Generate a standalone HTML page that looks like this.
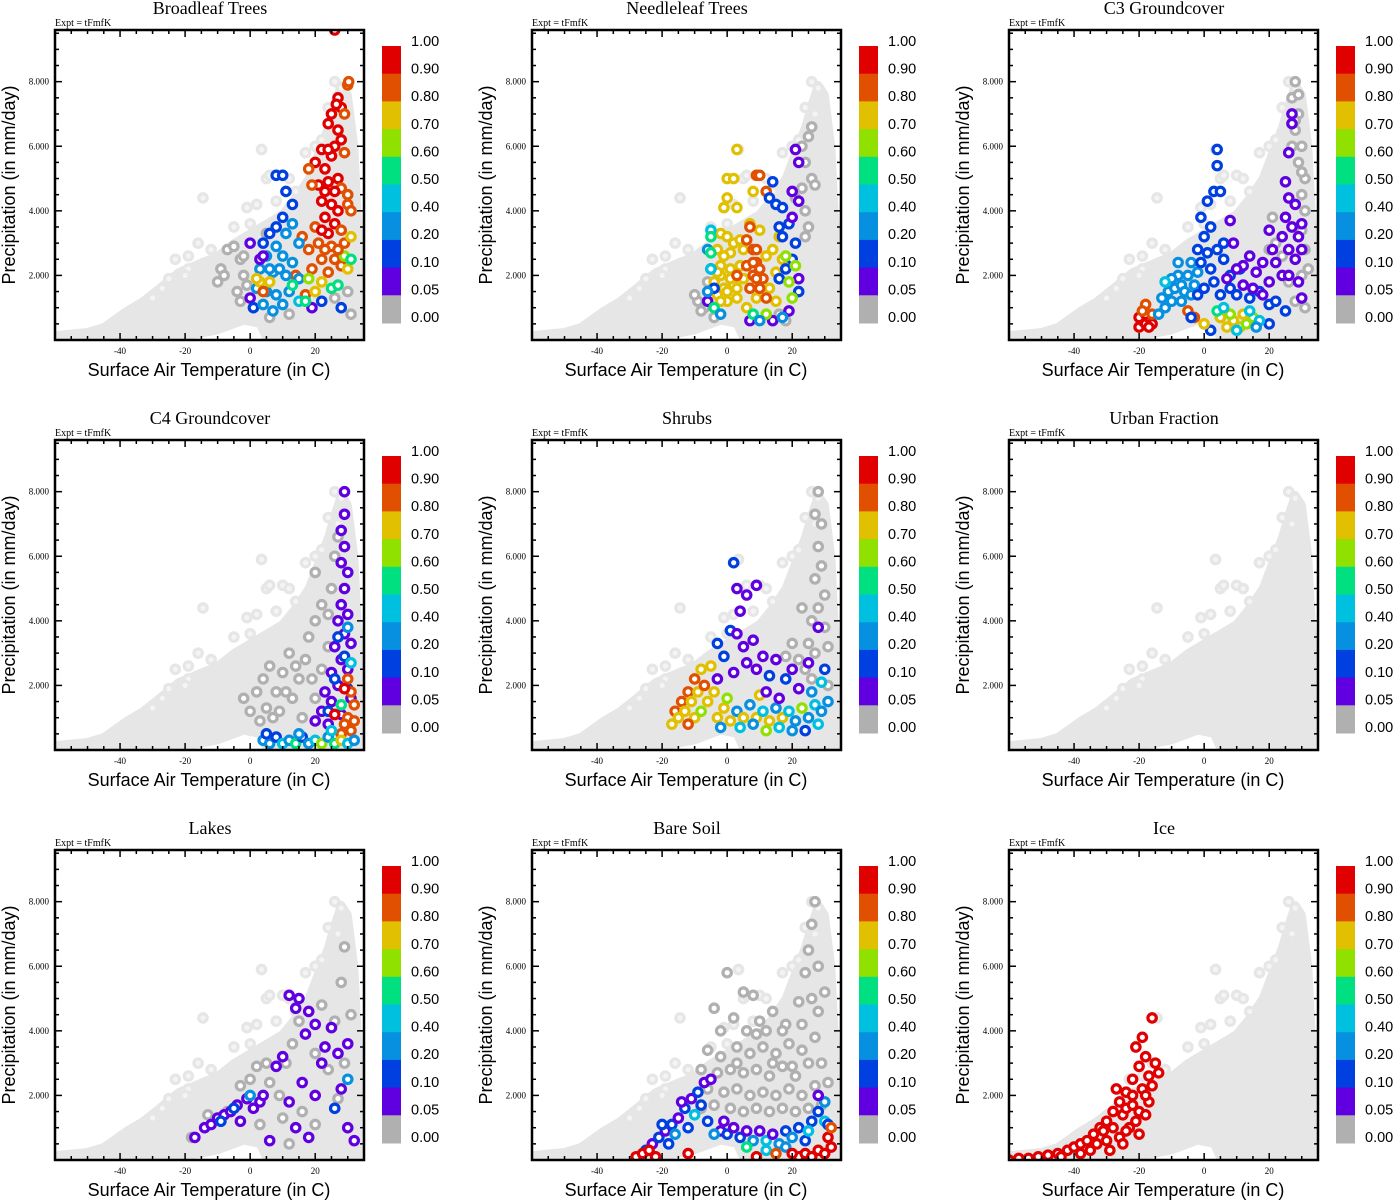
<!DOCTYPE html>
<html><head><meta charset="utf-8"><style>
body{margin:0;background:#fff;width:1393px;height:1200px;overflow:hidden}
svg{display:block}
</style></head><body>
<svg id="chart" width="1393" height="1200" xmlns="http://www.w3.org/2000/svg"></svg>
<script>
const panelTitles=["Broadleaf Trees","Needleleaf Trees","C3 Groundcover","C4 Groundcover","Shrubs","Urban Fraction","Lakes","Bare Soil","Ice"];
const xTicks=[-40,-20,0,20];
const yTicks=[2,4,6,8];
const yTickLabels=["2.000","4.000","6.000","8.000"];
const cbLabels=["1.00","0.90","0.80","0.70","0.60","0.50","0.40","0.20","0.10","0.05","0.00"];
const cbBounds=[1.0,0.9,0.8,0.7,0.6,0.5,0.4,0.2,0.1,0.05,0.0];
const cbColors=["#e00000","#e05000","#e0c000","#90e000","#00e080","#00c0e0","#0890e0","#0040e0","#6000e0","#b0b0b0"];
const cloudOutline=[[-60,0],[-60,0.15],[-50,0.25],[-45,0.4],[-38,0.9],[-33,1.2],[-28,1.6],[-22,2.1],[-15,2.4],[-10,2.6],[-5,3.0],[0,3.3],[5,3.6],[10,3.9],[14,4.4],[18,5.0],[21,5.8],[24,6.6],[26,7.3],[28,7.9],[30,7.6],[32,6.0],[33,4.0],[34.5,2.0],[34.5,0.05],[5,0.05],[3,0.5],[-2,0.6],[-10,0.3],[-20,0.1]];
const cloudOutliers=[[-14.5,4.4],[3.5,5.9],[5,5.0],[6,5.1],[10,5.1],[12,5.0],[-5,3.5],[-19,2.6],[-19,2.2],[-20,2.0],[-16,3.0],[-12,2.8],[17,5.8],[20,6.0],[14,4.6],[-1,4.1],[2,4.2],[26,8],[24,7.2],[28,7.8],[-25,1.9],[-27,1.6],[-30,1.3],[-23,2.5],[0,3.6],[8,4.3],[22,6.2],[27,7.0]];

const broadleafPts=[[26,9.6,.95],[30,7.9,.85],[30.3,8,.85],[27,7.5,.95],[28,7.2,.95],[26.5,7.3,.95],[25,7.0,.95],[29,7.0,.85],[24,6.7,.95],[27,6.5,.95],[28,6.2,.95],[26,6.0,.95],[22,5.9,.95],[25,5.7,.95],[29,5.8,.85],[20,5.5,.95],[23,5.3,.95],[27,5.0,.95],[21,4.8,.95],[24,4.9,.95],[28,4.7,.85],[30,4.5,.85],[18,5.3,.85],[19,4.8,.85],[22,4.3,.95],[25,4.2,.95],[27,4.0,.95],[30,4.2,.85],[31,4.0,.85],[23,3.8,.95],[26,3.6,.95],[20,3.5,.85],[24,3.3,.95],[28,3.4,.85],[21,3.0,.85],[25,2.9,.85],[29,3.0,.85],[16,3.2,.85],[18,2.8,.85],[22,2.5,.85],[26,2.5,.85],[28,2.3,.85],[19,2.2,.85],[24,2.1,.85],[14,2.0,.85],[17,1.4,.85],[31,3.2,.75],[30,2.2,.75],[22,1.8,.75],[29,2.6,.6],[31,2.5,.55],[20,1.5,.75],[25,1.6,.55],[27,1.7,.5],[23,4.6,.95],[26,4.6,.95],[24,5.9,.95],[22,3.4,.95],[27,2.8,.85],[23,2.8,.85],
[8,5.1,.15],[10,5.1,.15],[11,4.6,.15],[13,4.2,.15],[10,3.8,.15],[8,3.5,.15],[6,3.3,.15],[0,3.0,.07],[4,3.0,.15],[13,3.6,.3],[11,3.3,.3],[15,3.0,.3],[8,2.9,.3],[5,2.6,.3],[10,2.6,.3],[13,2.4,.3],[3,2.2,.3],[7,2.1,.3],[11,2.0,.3],[15,1.9,.3],[2,1.6,.3],[5,1.5,.3],[8,1.4,.3],[12,1.5,.3],[15,1.2,.45],[0,1.3,.07],[1,1.0,.15],[4,1.1,.3],[7,0.9,.3],[10,1.1,.3],[19,1.0,.07],[22,1.2,.15],[28,1.0,.15],[3,1.8,.7],[6,1.8,.75],[2,1.9,.7],[4,1.5,.85],[13,1.7,.5],[17,1.2,.55],[18,1.9,.6],[3,2.5,.07],[4,2.6,.07],[9,2.2,.3],[6,2.2,.3],
[-10,1.8,0],[-9,2.2,0],[-7,2.8,0],[-5,2.9,0],[-3,2.5,0],[-8,2.0,0],[-4,1.5,0],[-2,2.0,0],[-3,1.2,0],[5,3.3,0],[6,0.7,0],[12,0.8,0],[30,1.5,0],[31,0.8,0],[26,1.3,0],[-1,1.7,0],[-2,2.6,0]];
const needleleafPts=[[-7,1.0,0],[-9,1.2,0],[-6,1.8,0],[-8,0.9,0],[20,4.6,0],[21,4.4,0],[23,4.7,0],[24,5.5,0],[25,6.3,0],[26,5.0,0],[24,4.0,0],[27,4.8,0],[25,3.5,0],[23,6.0,0],[26,6.6,0],[24,3.2,0],[18,0.6,0],[16,0.8,0],[-10,1.4,0],[-4,0.7,0],
[3,5.9,.75],[0,5.0,.75],[2,5.0,.75],[0,4.4,.75],[-1,4.1,.75],[3,4.1,.75],[-2,3.3,.75],[0,3.2,.75],[2,3.0,.75],[4,3.1,.75],[-3,2.8,.75],[1,2.7,.75],[5,2.8,.75],[-2,2.3,.75],[1,2.2,.75],[4,2.3,.75],[7,3.6,.75],[10,3.4,.75],[12,2.6,.75],[14,2.8,.75],[16,3.2,.75],[17,2.5,.75],[-4,1.8,.75],[-1,1.6,.75],[2,1.7,.75],[5,1.9,.75],[0,1.2,.75],[3,1.3,.75],[-3,1.4,.75],[6,1.0,.75],[9,1.3,.75],[13,1.6,.75],[15,2.1,.75],[15,1.2,.75],[-2,2.0,.75],[1,1.9,.75],[8,4.6,.75],[-1,2.6,.75],[-3,2.1,.75],[0,1.5,.75],[3,1.6,.75],[-2,1.2,.75],
[9,5.1,.85],[10,5.1,.85],[12,4.6,.85],[7,3.5,.85],[6,3.1,.85],[8,2.8,.85],[9,2.4,.85],[10,2.2,.85],[8,2.0,.85],[11,1.9,.85],[7,1.6,.85],[10,1.6,.85],[12,1.3,.85],[9,2.8,.85],[3,2.0,.85],[6,2.3,.85],[9,1.9,.85],[8,2.4,.85],
[14,4.9,.15],[13,4.4,.15],[15,4.2,.15],[17,4.1,.15],[16,3.5,.15],[19,3.6,.15],[17,3.2,.15],[21,3.0,.15],[20,2.5,.15],[18,2.2,.15],[16,1.9,.15],[22,1.5,.15],[-5,2.2,.15],[-4,1.6,.15],
[21,5.9,.07],[22,5.5,.07],[20,4.6,.07],[22,4.3,.07],[20,3.8,.07],[22,1.9,.07],[-6,1.2,.07],[7,0.6,.07],[14,0.6,.07],[19,0.9,.07],
[-5,3.4,.45],[-6,2.8,.3],[-5,2.2,.45],[-6,1.5,.3],[-4,1.0,.55],[-5,3.2,.55],[-5,2.7,.55],[18,2.6,.65],[21,2.3,.65],[19,1.8,.65],[20,1.3,.65],[12,0.8,.65],[17,0.7,.3],[8,0.8,.55],[-2,0.8,.3],[10,0.6,.3]];
const c3Pts=[[28,8.0,0],[27,7.5,0],[29,7.0,0],[28,6.5,0],[30,6.0,0],[29,5.5,0],[31,5.0,0],[30,4.5,0],[31,4.0,0],[30,3.4,0],[31,2.8,0],[32,2.2,0],[30,2.0,0],[31,1.0,0],[26,1.8,0],[28,1.2,0],[21,3.8,0],[22,3.0,0],[20,2.8,0],[28,6.8,0],[24,2.6,0],[29,7.6,0],[27,6.0,0],[30,5.2,0],
[-20,0.4,.95],[-19,0.6,.95],[-18,0.5,.95],[-17,0.7,.95],[-16,0.5,.95],[-20,0.7,.95],[-18,0.8,.95],[-17,0.4,.95],
[-18,1.1,.85],[-19,0.9,.85],[-16,0.8,.85],[-5,0.9,.85],[-3,0.7,.85],[5,0.7,.85],
[-14,0.8,.3],[-12,1.0,.3],[-13,1.3,.3],[-11,1.5,.3],[-9,1.6,.3],[-10,1.2,.3],[-7,1.7,.3],[-8,2.0,.3],[-5,2.0,.3],[-6,1.5,.3],[-3,1.7,.3],[-4,2.4,.3],[-2,2.1,.3],[-10,1.9,.3],[-8,2.4,.3],[-12,1.8,.45],[-7,1.2,.3],[-4,1.4,.3],
[-2,2.8,.15],[0,3.2,.15],[2,3.5,.15],[-1,3.8,.15],[1,4.3,.15],[3,4.6,.15],[5,4.6,.15],[4,5.4,.15],[4,5.9,.15],[1,2.7,.15],[4,2.8,.15],[6,2.5,.15],[3,1.8,.15],[0,1.6,.15],[-2,1.4,.15],[5,1.4,.15],[8,1.6,.15],[10,1.4,.15],[14,1.3,.15],[17,1.5,.15],[20,1.1,.15],[22,1.2,.15],[25,0.9,.15],[20,0.5,.15],[-4,0.7,.15],[2,0.3,.15],[6,3.0,.15],[8,2.0,.15],[11,2.2,.15],[2,2.2,.15],[-1,2.4,.15],
[27,7.0,.07],[27,6.7,.07],[26,5.8,.07],[25,4.9,.07],[26,4.4,.07],[28,4.2,.07],[25,3.8,.07],[27,3.5,.07],[29,3.2,.07],[24,3.2,.07],[26,2.8,.07],[28,2.5,.07],[30,2.8,.07],[22,2.4,.07],[24,2.0,.07],[26,2.0,.07],[29,1.8,.07],[30,1.3,.07],[8,3.7,.07],[9,3.0,.07],[12,2.3,.07],[14,2.6,.07],[10,2.2,.07],[7,1.9,.07],[12,1.7,.07],[16,2.1,.07],[18,2.4,.07],[20,1.8,.07],[18,1.4,.07],[15,1.6,.07],[20,3.4,.07],[21,2.8,.07],[30,3.6,.07],
[5,0.7,.75],[7,0.4,.75],[9,0.6,.75],[11,0.4,.75],[8,0.8,.65],[13,0.5,.65],[15,0.7,.65],[12,0.8,.75],[0,0.5,.75],[10,0.3,.45],[14,0.9,.45],[17,0.6,.45],[4,0.9,.55],[16,0.4,.3],[6,1.0,.45]];
const c4Pts=[[2,1.8,0],[4,2.2,0],[6,2.6,0],[5,1.3,0],[8,1.8,0],[10,2.4,0],[12,3.0,0],[9,1.2,0],[13,1.6,0],[15,2.2,0],[17,2.8,0],[18,3.5,0],[20,4.0,0],[16,1.0,0],[20,1.6,0],[22,2.5,0],[24,3.2,0],[22,4.5,0],[25,5.0,0],[26,6.0,0],[27,6.6,0],[24,4.2,0],[0,1.2,0],[-2,1.6,0],[3,0.9,0],[20,5.5,0],[7,1.0,0],[11,1.8,0],[14,2.6,0],[19,2.2,0],
[29,8.0,.07],[29,7.3,.07],[28,6.8,.07],[29,6.3,.07],[28,5.8,.07],[30,5.5,.07],[29,5.0,.07],[28,4.5,.07],[30,4.2,.07],[27,4.0,.07],[29,3.6,.07],[31,3.3,.07],[26,3.2,.07],[28,2.8,.07],[30,2.5,.07],[25,2.4,.07],[27,2.0,.07],[23,1.8,.07],[31,1.6,.07],[22,1.2,.07],[25,1.5,.07],[28,1.1,.07],[24,0.8,.07],[20,0.9,.07],
[27,3.5,.15],[29,2.9,.15],[26,2.2,.15],[30,1.9,.15],[24,1.2,.15],[30,3.8,.3],[31,2.7,.45],[28,1.4,.55],
[30,2.2,.85],[31,1.8,.85],[32,1.4,.85],[30,1.0,.85],[29,0.8,.85],[31,0.6,.85],[28,0.5,.85],[32,0.9,.85],[26,1.1,.95],[29,1.9,.95],
[4,0.3,.3],[6,0.2,.3],[8,0.4,.15],[10,0.2,.45],[12,0.3,.3],[14,0.2,.55],[16,0.4,.15],[18,0.2,.3],[20,0.3,.45],[22,0.2,.65],[24,0.4,.3],[26,0.2,.55],[28,0.3,.75],[30,0.2,.45],[32,0.3,.3],[5,0.5,.15],[15,0.5,.3],[25,0.6,.45]];
const shrubPts=[[28,8,0],[27,7.3,0],[29,7.0,0],[28,6.3,0],[29,5.7,0],[27,5.3,0],[30,4.8,0],[28,4.4,0],[26,4.0,0],[30,3.8,0],[25,3.3,0],[27,3.0,0],[31,3.2,0],[24,2.5,0],[20,3.3,0],[22,2.8,0],[26,2.2,0],[31,2.0,0],[18,2.9,0],[23,4.4,0],
[-17,0.8,.75],[-16,1.2,.85],[-15,1.0,.75],[-14,1.5,.85],[-13,1.2,.75],[-12,1.8,.85],[-11,1.5,.75],[-10,2.2,.85],[-9,1.8,.75],[-8,2.5,.75],[-7,2.0,.85],[-6,1.5,.75],[-10,1.0,.75],[-5,2.6,.75],[-4,1.8,.75],[-12,0.8,.85],[-8,1.2,.65],
[-3,1.0,.75],[-1,1.3,.75],[1,0.9,.75],[3,1.2,.3],[5,1.0,.75],[7,1.4,.3],[9,1.0,.75],[11,1.2,.45],[13,0.9,.75],[15,1.3,.3],[17,1.0,.75],[19,1.2,.45],[21,0.9,.3],[23,1.3,.65],[25,1.0,.3],[27,1.4,.45],[29,1.2,.3],[31,1.5,.3],[-2,0.7,.3],[4,0.7,.45],[8,0.8,.3],[12,0.6,.65],[16,0.7,.45],[20,0.6,.3],[24,0.6,.15],[28,0.8,.45],[0,1.6,.65],[10,1.7,.75],
[2,5.8,.15],[3,5.0,.07],[6,4.8,.07],[9,5.1,.07],[4,4.3,.07],[1,3.7,.15],[3,3.6,.07],[5,3.2,.07],[8,3.4,.07],[6,2.7,.07],[9,2.5,.07],[11,2.9,.07],[2,2.4,.07],[-3,3.3,.15],[-1,2.9,.15],[13,2.3,.15],[15,2.8,.07],[18,2.2,.15],[20,2.5,.07],[22,1.9,.07],[12,1.8,.07],[16,1.6,.07],[-3,2.2,.07],[25,2.7,.07],[28,3.8,.07],[30,2.5,.15],[26,1.8,.3],[29,2.1,.45]];
const urbanPts=[];
const lakePts=[[-18,0.7,0],[-13,1.4,0],[-7,1.5,0],[0,2.5,0],[2,2.9,0],[5,3.0,0],[6,2.4,0],[9,2.0,0],[11,3.0,0],[13,3.6,0],[15,4.3,0],[20,3.3,0],[22,4.8,0],[24,2.8,0],[26,4.3,0],[28,5.5,0],[29,6.6,0],[31,4.5,0],[10,1.3,0],[16,1.5,0],[27,1.9,0],[12,0.5,0],[20,1.1,0],[29,3.0,0],[3,1.1,0],[-3,2.3,0],
[-17,0.7,.07],[-14,1.0,.07],[-12,1.1,.07],[-10,1.3,.07],[-8,1.4,.07],[-6,1.5,.07],[-4,1.7,.07],[-3,1.2,.07],[-1,1.9,.07],[1,1.6,.07],[3,1.8,.07],[-9,1.2,.15],[-5,1.6,.15],[0,2.0,.3],[4,2.0,.07],[6,0.6,.07],[8,2.9,.07],[10,3.2,.07],[12,5.1,.07],[14,4.7,.07],[18,4.6,.07],[20,4.2,.07],[17,3.9,.07],[23,3.5,.07],[25,4.1,.07],[27,3.3,.07],[30,3.6,.07],[16,2.4,.07],[12,1.8,.07],[20,2.0,.07],[14,1.0,.07],[18,0.7,.07],[26,1.6,.15],[30,1.0,.07],[32,0.6,.07],[28,2.2,.07],[30,2.5,.3],[22,3.0,.07],[15,5.0,.07]];
const bareSoilPts=[[0,5.8,0],[5,5.2,0],[8,5.1,0],[-4,4.7,0],[-2,4.0,0],[2,4.4,0],[6,4.0,0],[10,4.3,0],[14,4.6,0],[18,4.2,0],[22,4.9,0],[24,5.8,0],[25,6.5,0],[26,7.3,0],[27,8,0],[-6,3.4,0],[-2,3.2,0],[3,3.5,0],[7,3.3,0],[11,3.5,0],[15,3.3,0],[19,3.6,0],[23,3.4,0],[27,3.8,0],[-8,2.8,0],[-3,2.7,0],[1,2.8,0],[5,2.7,0],[9,2.8,0],[13,2.6,0],[17,2.9,0],[21,2.6,0],[25,3.0,0],[29,3.0,0],[-6,2.2,0],[-1,2.1,0],[3,2.2,0],[7,2.0,0],[11,2.1,0],[15,2.0,0],[19,2.2,0],[23,2.0,0],[27,2.3,0],[31,2.4,0],[1,1.6,0],[5,1.5,0],[9,1.6,0],[13,1.5,0],[17,1.6,0],[21,1.5,0],[25,1.6,0],[29,1.7,0],[28,4.6,0],[30,5.2,0],[26,5.0,0],[12,4.0,0],[-8,1.6,0],[-4,1.7,0],[3,3.0,0],[9,3.9,0],[17,4.0,0],[23,4.2,0],[28,6.0,0],[20,2.9,0],[14,3.0,0],
[-25,0.3,.15],[-23,0.5,.07],[-21,0.7,.15],[-19,0.9,.07],[-17,1.1,.15],[-15,1.3,.07],[-13,1.6,.15],[-11,1.9,.07],[-9,2.1,.15],[-7,2.4,.07],[-5,2.5,.07],[-20,1.1,.15],[-16,0.8,.3],[-14,1.8,.07],[-12,1.0,.15],[-10,1.4,.45],[-8,1.7,.15],[-6,1.2,.15],[-18,0.5,.15],[-2,0.9,.07],[0,0.8,.15],[2,1.0,.07],[4,0.7,.15],[6,0.9,.07],[8,0.6,.3],[10,0.9,.07],[12,0.6,.45],[14,0.8,.07],[16,0.5,.3],[18,0.9,.15],[20,0.7,.3],[22,1.0,.15],[24,0.6,.15],[26,1.2,.15],[28,1.5,.15],[30,1.8,.3],[30,1.2,.45],[-4,0.8,.3],[6,0.4,.55],[12,0.3,.45],[18,0.4,.3],[25,0.9,.45],[31,1.1,.15],[28,2.0,.07],[-1,1.2,.07],
[-28,0.1,.95],[-26,0.2,.95],[-24,0.3,.95],[-22,0.1,.95],[22,0.1,.95],[24,0.2,.95],[26,0.1,.95],[28,0.3,.95],[30,0.2,.95],[32,0.4,.95],[31,0.7,.95],[32,1.0,.85],[9,0.1,.95],[15,0.2,.85],[-12,0.2,.95],[20,0.2,.95]];
const icePts=[[-60,0.0,.95],[-57,0.05,.95],[-54,0.05,.95],[-51,0.1,.95],[-48,0.15,.95],[-45,0.2,.95],[-42,0.3,.95],[-40,0.4,.95],[-38,0.5,.95],[-36,0.6,.95],[-34,0.8,.95],[-32,1.0,.95],[-30,1.2,.95],[-28,1.5,.95],[-26,1.8,.95],[-24,2.1,.95],[-22,2.5,.95],[-20,2.9,.95],[-18,3.2,.95],[-16,4.4,.95],[-19,3.8,.95],[-21,3.5,.95],[-15,3.0,.95],[-17,2.6,.95],[-22,2.0,.95],[-19,2.2,.95],[-25,1.4,.95],[-28,1.0,.95],[-23,1.0,.95],[-20,1.5,.95],[-17,1.8,.95],[-30,0.6,.95],[-33,0.5,.95],[-26,0.7,.95],[-24,1.6,.95],[-21,1.2,.95],[-18,1.4,.95],[-29,0.3,.95],[-35,0.3,.95],[-44,0.1,.95],[-38,0.2,.95],[-16,2.3,.95],[-14,2.7,.95],[-20,0.8,.95],[-27,2.2,.95],[-25,0.5,.95],[-31,0.9,.95],[-22,1.7,.95],[-18,2.0,.95],[-24,0.9,.95]];
const panelPoints=[broadleafPts,needleleafPts,c3Pts,c4Pts,shrubPts,urbanPts,lakePts,bareSoilPts,icePts];

const NS="http://www.w3.org/2000/svg";
const svg=document.getElementById('chart');
const XMIN=-60,XMAX=35,YMIN=0,YMAX=9.6,PW=309,PH=310;
function mk(tag,attrs,parent){const e=document.createElementNS(NS,tag);for(const k in attrs)e.setAttribute(k,attrs[k]);parent.appendChild(e);return e;}
function colorFor(v){for(let i=0;i<10;i++){if(v>=cbBounds[i+1])return cbColors[i];}return cbColors[9];}

panelTitles.forEach((title,i)=>{
  const c=i%3,r=Math.floor(i/3);
  const X0=55+477*c,Y0=30+410*r;
  const sx=t=>X0+(t-XMIN)/(XMAX-XMIN)*PW;
  const sy=p=>Y0+PH-(p-YMIN)/(YMAX-YMIN)*PH;
  const g=mk('g',{},svg);
  
  
  const t=mk('text',{x:X0+155,y:Y0-16,'text-anchor':'middle','font-family':'Liberation Serif, serif','font-size':18},g);
  t.textContent=title;
  
  
  const ex=mk('text',{x:X0,y:Y0-4,'font-family':'Liberation Serif, serif','font-size':10},g);
  ex.textContent='Expt = tFmfK';
  
  
  const clipId='clip'+i;
  const cp=mk('clipPath',{id:clipId},g);mk('rect',{x:X0,y:Y0,width:PW,height:PH},cp);
  const pa=mk('g',{'clip-path':'url(#'+clipId+')'},g);
  
  
  const cloud=mk('polygon',{points:cloudOutline.map(d=>sx(d[0])+','+sy(d[1])).join(' '),fill:'#e6e6e6',stroke:'#e6e6e6','stroke-width':8,'stroke-linejoin':'round'},pa);
  
  
  cloudOutliers.forEach(d=>{
    const m=mk('circle',{cx:sx(d[0]),cy:sy(d[1]),r:4.2,fill:'#f4f4f4',stroke:'#e6e6e6','stroke-width':3.2},pa);
    
    
  });
  const pts=panelPoints[i].slice().sort((a,b)=>(a[2]<0.05?0:1)-(b[2]<0.05?0:1));
  pts.forEach(d=>{
    const m=mk('circle',{cx:sx(d[0]),cy:sy(d[1]),r:4.2,fill:'#fff',stroke:colorFor(d[2]),'stroke-width':3.2},pa);
    
    
  });
  const fr=mk('rect',{x:X0,y:Y0,width:PW,height:PH,fill:'none',stroke:'#000','stroke-width':2.5},g);
  
  
  for(let v=-55;v<=35;v+=5){
    const x=sx(v),L=(v%20===0)?7:4;
    mk('line',{x1:x,y1:Y0+PH,x2:x,y2:Y0+PH-L,stroke:'#000','stroke-width':1.5},g);
    mk('line',{x1:x,y1:Y0,x2:x,y2:Y0+L,stroke:'#000','stroke-width':1.5},g);
  }
  for(let v=0.5;v<9.6;v+=0.5){
    const y=sy(v),L=(v%2===0)?7:4;
    mk('line',{x1:X0,y1:y,x2:X0+L,y2:y,stroke:'#000','stroke-width':1.5},g);
    mk('line',{x1:X0+PW,y1:y,x2:X0+PW-L,y2:y,stroke:'#000','stroke-width':1.5},g);
  }
  xTicks.forEach(v=>{
    const tl=mk('text',{x:sx(v),y:Y0+PH+14,'text-anchor':'middle','font-family':'Liberation Serif, serif','font-size':9},g);
    tl.textContent=v;
    
    
  });
  yTicks.forEach((v,k)=>{
    const tl=mk('text',{x:X0-6,y:sy(v)+3,'text-anchor':'end','font-family':'Liberation Serif, serif','font-size':9},g);
    tl.textContent=yTickLabels[k];
    
    
  });
  const xt=mk('text',{x:X0+154,y:Y0+PH+36,'text-anchor':'middle','font-family':'Liberation Sans, sans-serif','font-size':18},g);
  xt.textContent='Surface Air Temperature (in C)';
  
  
  const yt=mk('text',{x:0,y:0,'text-anchor':'middle','font-family':'Liberation Sans, sans-serif','font-size':18,transform:'translate('+(X0-40)+','+(Y0+155)+') rotate(-90)'},g);
  yt.textContent='Precipitation (in mm/day)';
  
  
  const cb=mk('g',{},g);
  
  
  const CBX=X0+327,CBY=Y0+16,BH=27.7;
  cbColors.forEach((col,k)=>{
    const b=mk('rect',{x:CBX,y:CBY+k*BH,width:19,height:BH+0.5,fill:col},cb);
    
    
  });
  cbLabels.forEach((lab,k)=>{
    const tl=mk('text',{x:CBX+29,y:CBY+k*27.6,'font-family':'Liberation Sans, sans-serif','font-size':14.5},cb);
    tl.textContent=lab;
    
    
  });
});
</script>
</body></html>
